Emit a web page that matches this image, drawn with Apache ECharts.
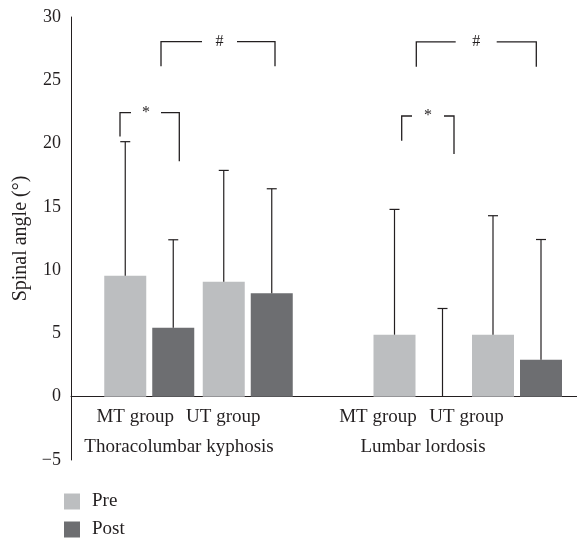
<!DOCTYPE html>
<html>
<head>
<meta charset="utf-8">
<script src="https://cdn.jsdelivr.net/npm/echarts@6/dist/echarts.min.js"></script>
<style>
html,body{margin:0;padding:0;background:#fff;}
#chart{width:577px;height:541px;}
</style>
</head>
<body>
<div id="chart"></div>
<script>
// ---- data ----
const categories = ['MT group', 'UT group'];
const groupNames = ['Thoracolumbar kyphosis', 'Lumbar lordosis'];
const seriesNames = ['Pre', 'Post'];
// Thoracolumbar kyphosis
const tlPre = [9.55, 9.08];
const tlPost = [5.45, 8.18];
const tlPreSD = [10.6, 8.8];
const tlPostSD = [6.95, 8.25];
// Lumbar lordosis
const llPre = [4.9, 4.9];
const llPost = [0, 2.92];
const llPreSD = [9.9, 9.4];
const llPostSD = [6.97, 9.5];
// y axis
const yMin = -5, yMax = 30, yStep = 5;
// significance brackets (annotation geometry, in overlay-axis units)
const brackets = [
  {x1: 90, x2: 204, top: 28.05, lb: 26.1, rb: 26.1, g1: 131, g2: 166, text: '#'},
  {x1: 49, x2: 108.3, top: 22.45, lb: 20.55, rb: 18.6, g1: 60, g2: 90, text: '*'},
  {x1: 345.3, x2: 465.3, top: 28.03, lb: 26.07, rb: 26.07, g1: 384.7, g2: 425.7, text: '#'},
  {x1: 330.7, x2: 383, top: 22.18, lb: 20.23, rb: 19.18, g1: 341, g2: 373, text: '*'}
];

// ---- style ----
const FONT = 'Liberation Serif';
const TXT = '#231f20';
const C_PRE = '#bcbec0';
const C_POST = '#6d6e71';
const BAR_W = 42;
const BAR_GAP_PX = 6;
const OFF = (BAR_W + BAR_GAP_PX) / 2;
const GTOP = 17, GH = 443;
const GH_POS = GH * yMax / (yMax - yMin);
const labelShift = [[14, 24.5], [40.5, 50.5]];
const nameShift = [19.5, 44.75];

const chart = echarts.init(document.getElementById('chart'));

function errRender(offset) {
  return function (params, api) {
    const i = api.value(0), m = api.value(1), sd = api.value(2);
    const b = api.coord([i, m]);
    const t = api.coord([i, m + sd]);
    const x = b[0] + offset;
    const st = {stroke: TXT, lineWidth: 1.2};
    return {type: 'group', children: [
      {type: 'line', shape: {x1: x, y1: b[1], x2: x, y2: t[1]}, style: st},
      {type: 'line', shape: {x1: x - 5, y1: t[1], x2: x + 5, y2: t[1]}, style: st}
    ]};
  };
}

function bracketRender(params, api) {
  const b = brackets[params.dataIndex];
  const P = (x, y) => api.coord([x, y]);
  const st = {stroke: TXT, lineWidth: 1.3, fill: null};
  const l1 = [P(b.x1, b.lb), P(b.x1, b.top), P(b.g1, b.top)];
  const l2 = [P(b.g2, b.top), P(b.x2, b.top), P(b.x2, b.rb)];
  const c = P((b.g1 + b.g2) / 2, b.top);
  return {type: 'group', children: [
    {type: 'polyline', shape: {points: l1}, style: st},
    {type: 'polyline', shape: {points: l2}, style: st},
    {type: 'text', x: c[0], y: c[1], style: {text: b.text, fill: TXT, font: '16px "' + FONT + '"', align: 'center', verticalAlign: 'middle'}}
  ]};
}

function groupXAxis(gi) {
  const rich = {};
  categories.forEach((c, i) => {
    rich['s' + i] = {fontFamily: FONT, fontSize: 19, color: TXT, padding: [0, 2 * labelShift[gi][i], 0, 0]};
  });
  return {
    type: 'category', gridIndex: gi + 1, data: categories,
    axisLine: {show: false},
    axisTick: {show: false},
    axisLabel: {margin: 11, formatter: (v, i) => '{s' + i + '|' + v + '}', rich: rich},
    name: groupNames[gi], nameLocation: 'middle', nameGap: 41,
    nameTextStyle: {fontFamily: FONT, fontSize: 19, color: TXT, padding: [0, 2 * nameShift[gi], 0, 0]}
  };
}

function hiddenY(gi) {
  return {type: 'value', gridIndex: gi, min: 0, max: yMax, show: false};
}

const barData = [[tlPre, tlPost, tlPreSD, tlPostSD], [llPre, llPost, llPreSD, llPostSD]];
const series = [];
barData.forEach((d, gi) => {
  const ax = gi + 1;
  series.push({name: seriesNames[0], type: 'bar', xAxisIndex: ax, yAxisIndex: ax, data: d[0], barWidth: BAR_W, barGap: (BAR_GAP_PX / BAR_W * 100) + '%', itemStyle: {color: C_PRE}});
  series.push({name: seriesNames[1], type: 'bar', xAxisIndex: ax, yAxisIndex: ax, data: d[1], barWidth: BAR_W, itemStyle: {color: C_POST}});
  series.push({type: 'custom', xAxisIndex: ax, yAxisIndex: ax, z: 5, clip: false, renderItem: errRender(-OFF), data: d[0].map((v, i) => [i, v, d[2][i]])});
  series.push({type: 'custom', xAxisIndex: ax, yAxisIndex: ax, z: 5, clip: false, renderItem: errRender(OFF), data: d[1].map((v, i) => [i, v, d[3][i]])});
});
series.push({type: 'custom', xAxisIndex: 0, yAxisIndex: 0, z: 6, clip: false, renderItem: bracketRender, data: brackets.map((b, i) => [i])});

chart.setOption({
  animation: false,
  backgroundColor: '#fff',
  grid: [
    {left: 71, right: 0, top: GTOP, height: GH},
    {left: 100, width: 197, top: GTOP, height: GH_POS},
    {left: 369.25, width: 197, top: GTOP, height: GH_POS}
  ],
  xAxis: [
    {type: 'value', gridIndex: 0, min: 0, max: 506,
     axisLine: {show: true, onZero: true, lineStyle: {color: TXT, width: 1}},
     axisTick: {show: false}, axisLabel: {show: false}, splitLine: {show: false}},
    groupXAxis(0), groupXAxis(1)
  ],
  yAxis: [
    {type: 'value', gridIndex: 0, min: yMin, max: yMax, interval: yStep,
     axisLine: {show: true, lineStyle: {color: TXT, width: 1}},
     axisTick: {show: false}, splitLine: {show: false},
     axisLabel: {margin: 10, fontFamily: FONT, fontSize: 18, color: TXT, formatter: v => String(v).replace('-', '\u2212')},
     name: 'Spinal angle (\u00b0)', nameLocation: 'middle', nameGap: 40,
     nameTextStyle: {fontFamily: FONT, fontSize: 20, color: TXT}},
    hiddenY(1), hiddenY(2)
  ],
  legend: {
    data: seriesNames, orient: 'vertical', left: 64, top: 492, height: 80, padding: 0,
    icon: 'rect', itemWidth: 16, itemHeight: 16, itemGap: 9,
    textStyle: {fontFamily: FONT, fontSize: 19, color: TXT, lineHeight: 16, padding: [0, 0, 0, 7]}
  },
  series: series
});
</script>
</body>
</html>
